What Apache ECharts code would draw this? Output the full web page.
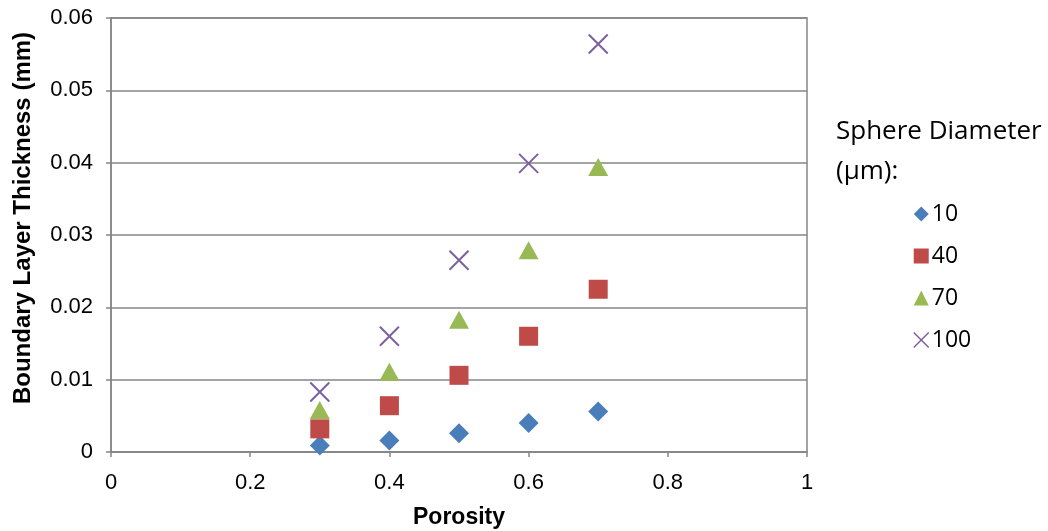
<!DOCTYPE html>
<html>
<head>
<meta charset="utf-8">
<script src="https://cdn.jsdelivr.net/npm/echarts@6/dist/echarts.min.js"></script>
<style>
  html, body { margin: 0; padding: 0; background: #fff; }
  #chart { width: 1048px; height: 531px; }
</style>
</head>
<body>
<div id="chart"></div>
<script>
// Porosity values shared by every series
const porosity = [0.3, 0.4, 0.5, 0.6, 0.7];

// Boundary layer thickness (mm) for each sphere diameter (µm)
const d10 = [0.0009, 0.0016, 0.0026, 0.0040, 0.0056];
const d40 = [0.0032, 0.0064, 0.0106, 0.0160, 0.0225];
const d70 = [0.0058, 0.0111, 0.0183, 0.0279, 0.0394];
const d100 = [0.0083, 0.0160, 0.0265, 0.0399, 0.0564];

const seriesNames = ['10', '40', '70', '100'];
const seriesData = [d10, d40, d70, d100];
const colors = ['#4A7EBB', '#BE4B48', '#98B954', '#7D60A0'];
const symbols = ['diamond', 'rect', 'triangle', 'path://M0,0L10,10M10,0L0,10'];
const sizes = [[20, 20], [19, 19], [20, 18], [19, 19]];

const chart = echarts.init(document.getElementById('chart'));

function styleFor(i, crossWidth) {
  return i === 3
    ? { color: 'rgba(0,0,0,0)', borderColor: colors[i], borderWidth: crossWidth, opacity: 1 }
    : { color: colors[i], opacity: 1 };
}

const series = seriesNames.map((name, i) => ({
  name: name,
  type: 'scatter',
  symbol: symbols[i],
  symbolSize: sizes[i],
  data: porosity.map((p, k) => [p, seriesData[i][k]]),
  itemStyle: styleFor(i, 2),
  emphasis: { disabled: true }
}));

chart.setOption({
  animation: false,
  grid: {
    left: 111, right: 241, top: 18, bottom: 79,
    outerBoundsMode: 'none',
    containLabel: false,
    show: true, borderColor: '#868686', borderWidth: 1.5
  },
  title: {
    text: 'Sphere Diameter\n(µm):',
    left: 831, top: 107,
    textStyle: {
      fontFamily: 'Open Sans', fontSize: 26, fontWeight: 'normal',
      color: '#000', lineHeight: 40
    }
  },
  legend: {
    orient: 'vertical',
    left: 908, top: 195,
    itemGap: 14,
    itemWidth: 15, itemHeight: 15,
    textStyle: { fontFamily: 'Open Sans', fontSize: 23, color: '#000', padding: [0, 0, 0, -2], lineHeight: 28 },
    data: seriesNames.map((n, i) => ({
      name: n,
      icon: symbols[i],
      itemStyle: styleFor(i, 1.5)
    }))
  },
  graphic: [{
    type: 'text',
    x: 23, y: 218,
    rotation: Math.PI / 2,
    style: {
      text: 'Boundary Layer Thickness (mm)',
      fontFamily: 'Liberation Sans', fontSize: 24, fontWeight: 'bold',
      fill: '#000', align: 'center', verticalAlign: 'middle'
    }
  }],
  xAxis: {
    type: 'value',
    min: 0, max: 1, interval: 0.2,
    name: 'Porosity',
    nameLocation: 'middle',
    nameGap: 54,
    nameTextStyle: { fontFamily: 'Liberation Sans', fontSize: 23, fontWeight: 'bold', color: '#000' },
    axisLine: { show: true, lineStyle: { color: '#868686', width: 1.5 } },
    axisTick: { show: true, length: 5, lineStyle: { color: '#868686', width: 1.5 } },
    axisLabel: { fontFamily: 'Liberation Sans', fontSize: 22, color: '#000', margin: 20 },
    splitLine: { show: false }
  },
  yAxis: {
    type: 'value',
    min: 0, max: 0.06, interval: 0.01,
    axisLine: { show: true, lineStyle: { color: '#868686', width: 1.5 } },
    axisTick: { show: true, length: 5, lineStyle: { color: '#868686', width: 1.5 } },
    axisLabel: { fontFamily: 'Liberation Sans', fontSize: 22, color: '#000', margin: 18 },
    splitLine: { show: true, lineStyle: { color: '#868686', width: 1.5 } }
  },
  series: series
});
</script>
</body>
</html>
